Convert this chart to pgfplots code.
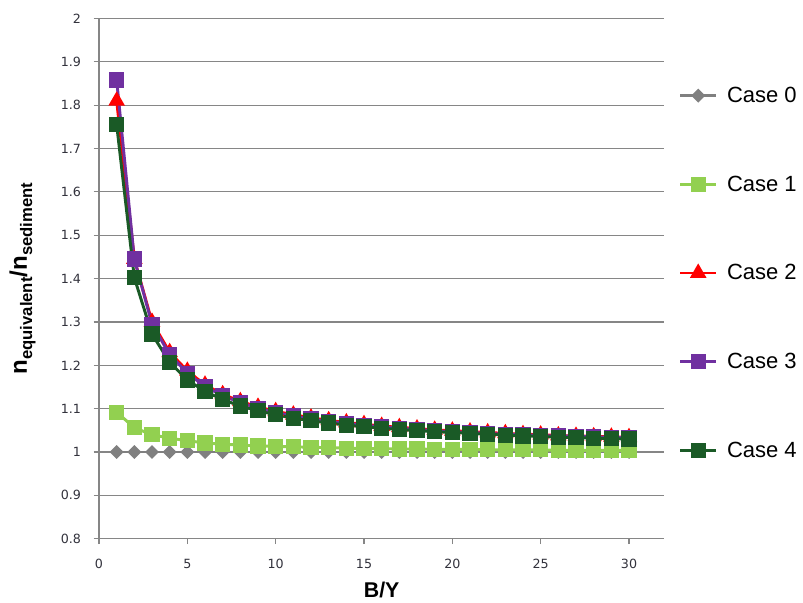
\documentclass[border=0pt]{standalone}
\usepackage{fontspec}
\setmainfont{Liberation Sans}
\newfontfamily\tickfont{DejaVu Sans}
\usepackage{pgfplots}
\pgfplotsset{compat=1.18}
\definecolor{cgray}{RGB}{128,128,128}
\definecolor{clgreen}{RGB}{146,208,80}
\definecolor{cred}{RGB}{255,0,0}
\definecolor{cpurple}{RGB}{112,48,160}
\definecolor{cdgreen}{RGB}{26,90,38}
\definecolor{gridc}{RGB}{134,134,134}
\definecolor{tickc}{RGB}{50,50,60}
\newcommand{\bigf}{\fontsize{18}{20}\selectfont}
\newcommand{\subf}[1]{\raisebox{-0.22em}{\fontsize{12.5}{14}\selectfont #1}}
\begin{document}
\begin{tikzpicture}
\useasboundingbox (0,0) rectangle (602.25pt,452.25pt);
\begin{axis}[
  at={(74.25pt,48.2pt)}, anchor=south west,
  scale only axis, width=424pt, height=390.2pt,
  xmin=0, xmax=32, ymin=0.8, ymax=2,
  xtick={0,5,10,15,20,25,30},
  ytick={0.8,0.9,1,1.1,1.2,1.3,1.4,1.5,1.6,1.7,1.8,1.9,2},
  yticklabels={0.8,0.9,1,1.1,1.2,1.3,1.4,1.5,1.6,1.7,1.8,1.9,2},
  axis lines*=left,
  axis line style={gridc, line width=0.9pt},
  ymajorgrids, grid style={gridc, line width=0.9pt},
  tick align=outside, major tick length=4pt,
  tick style={gridc, line width=0.9pt},
  /pgf/number format/assume math mode=true,
  ticklabel style={font=\tickfont\fontsize{9.5}{11}\selectfont, text=tickc},
  yticklabel style={xshift=-6pt},
  xticklabel style={yshift=-8pt},
  xlabel={\fontsize{16}{18}\selectfont\bfseries B/Y},
  xlabel style={yshift=-3pt},
  ylabel={\bfseries\bigf n\subf{equivalent}/n\subf{sediment}},
  ylabel style={yshift=12pt},
  legend cell align=left,
  legend style={draw=none, fill=none, at={(1.025,0.874)}, anchor=north west,
    font=\fontsize{16.5}{19}\selectfont, row sep=49.5pt, column sep=5pt, inner sep=0pt},
  legend image code/.code={\draw[mark repeat=2, mark phase=2] plot coordinates {(0pt,0pt) (13.5pt,0pt) (27pt,0pt)};},
  every axis plot/.append style={line width=2.2pt},
]
\addplot[cgray, mark=square*, mark size=2.6pt, mark options={rotate=45, solid}] coordinates {
(1,1)(2,1)(3,1)(4,1)(5,1)(6,1)(7,1)(8,1)(9,1)(10,1)(11,1)(12,1)(13,1)(14,1)(15,1)
(16,1)(17,1)(18,1)(19,1)(20,1)(21,1)(22,1)(23,1)(24,1)(25,1)(26,1)(27,1)(28,1)(29,1)(30,1)};
\addlegendentry{Case 0}
\addplot[clgreen, mark=square*, mark size=4.6pt] coordinates {
(1,1.092)(2,1.056)(3,1.040)(4,1.032)(5,1.026)(6,1.021)(7,1.018)(8,1.016)(9,1.014)(10,1.013)
(11,1.012)(12,1.011)(13,1.010)(14,1.009)(15,1.008)(16,1.008)(17,1.007)(18,1.007)(19,1.006)(20,1.006)
(21,1.006)(22,1.005)(23,1.005)(24,1.005)(25,1.005)(26,1.004)(27,1.004)(28,1.004)(29,1.004)(30,1.004)};
\addlegendentry{Case 1}
\addplot[cred, mark=triangle*, mark size=5pt] coordinates {
(1,1.810)(2,1.445)(3,1.300)(4,1.230)(5,1.187)(6,1.155)(7,1.133)(8,1.117)(9,1.104)(10,1.094)
(11,1.086)(12,1.079)(13,1.073)(14,1.068)(15,1.064)(16,1.060)(17,1.057)(18,1.054)(19,1.051)(20,1.049)
(21,1.047)(22,1.045)(23,1.043)(24,1.041)(25,1.040)(26,1.038)(27,1.037)(28,1.036)(29,1.035)(30,1.034)};
\addlegendentry{Case 2}
\addplot[cpurple, mark=square*, mark size=4.6pt] coordinates {
(1,1.858)(2,1.445)(3,1.295)(4,1.225)(5,1.182)(6,1.151)(7,1.130)(8,1.114)(9,1.101)(10,1.091)
(11,1.083)(12,1.076)(13,1.071)(14,1.066)(15,1.062)(16,1.058)(17,1.055)(18,1.052)(19,1.049)(20,1.047)
(21,1.045)(22,1.043)(23,1.041)(24,1.040)(25,1.038)(26,1.037)(27,1.036)(28,1.035)(29,1.034)(30,1.033)};
\addlegendentry{Case 3}
\addplot[cdgreen, mark=square*, mark size=4.6pt] coordinates {
(1,1.755)(2,1.402)(3,1.272)(4,1.207)(5,1.166)(6,1.140)(7,1.121)(8,1.106)(9,1.095)(10,1.086)
(11,1.078)(12,1.072)(13,1.067)(14,1.062)(15,1.058)(16,1.055)(17,1.052)(18,1.049)(19,1.047)(20,1.045)
(21,1.043)(22,1.041)(23,1.039)(24,1.037)(25,1.036)(26,1.034)(27,1.033)(28,1.032)(29,1.031)(30,1.030)};
\addlegendentry{Case 4}
\end{axis}
\end{tikzpicture}
\end{document}
